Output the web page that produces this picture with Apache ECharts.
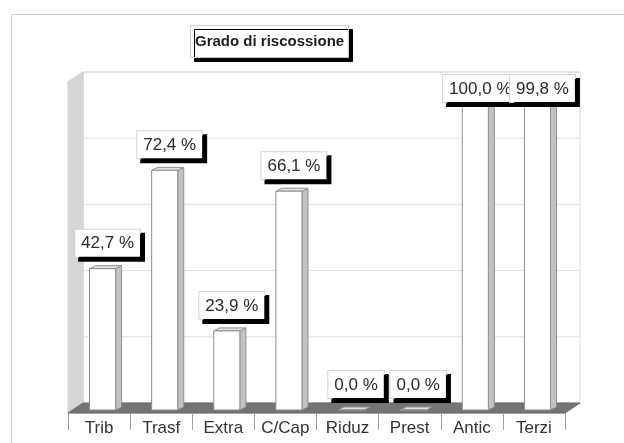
<!DOCTYPE html>
<html>
<head>
<meta charset="utf-8">
<script src="https://cdn.jsdelivr.net/npm/echarts@6/dist/echarts.min.js"></script>
<style>
  html, body { margin: 0; padding: 0; background: #fff; }
  #chart { width: 624px; height: 443px; }
</style>
</head>
<body>
<div id="chart"></div>
<script>
// Collection rate by revenue title
const categories = ['Trib', 'Trasf', 'Extra', 'C/Cap', 'Riduz', 'Prest', 'Antic', 'Terzi'];
const values = [42.7, 72.4, 23.9, 66.1, 0.0, 0.0, 100.0, 99.8];
const gridValues = [0, 20, 40, 60, 80, 100];
const titleText = 'Grado di riscossione';

const FONT = '"Liberation Sans", Arial, sans-serif';
// pseudo-3D offsets (pixels)
const WALL_DX = 15, WALL_DY = -10;     // depth of the back wall
const BAR_DX = 3.5, BAR_DY = -3;       // bar front plane relative to the axis plane
const BAR_DEPTH_X = 6, BAR_DEPTH_Y = -3;
const LABEL_TOP_LIMIT = 75;

function fmt(v) {
  return v.toFixed(1).replace('.', ',') + ' %';
}

const chart = echarts.init(document.getElementById('chart'), null, { renderer: 'canvas' });

// Walls, floor and the gridlines on the back wall
function renderWalls(params, api) {
  const cs = params.coordSys;
  const v = api.value(1);
  const y = api.coord([0, v])[1];
  const x0 = cs.x, x1 = cs.x + cs.width;
  const yTop = cs.y, yBot = cs.y + cs.height;
  const children = [];
  if (params.dataIndex === 0) {
    // back wall
    children.push({
      type: 'rect',
      shape: { x: x0 + WALL_DX, y: yTop + WALL_DY, width: cs.width, height: cs.height },
      style: { fill: '#ffffff', stroke: '#d8d8d8', lineWidth: 1 }
    });
    // left side wall
    children.push({
      type: 'polygon',
      shape: { points: [[x0, yBot], [x0 + WALL_DX, yBot + WALL_DY], [x0 + WALL_DX, yTop + WALL_DY], [x0, yTop]] },
      style: { fill: '#d6d6d6', stroke: '#cfcfcf', lineWidth: 1 }
    });
  }
  if (v > 0) {
    children.push({
      type: 'line',
      shape: { x1: x0 + WALL_DX, y1: y + WALL_DY, x2: x1 + WALL_DX, y2: y + WALL_DY },
      style: { stroke: '#dedede', lineWidth: 1 }
    });
  } else {
    // floor
    children.push({
      type: 'polygon',
      shape: { points: [[x0, yBot], [x1, yBot], [x1 + WALL_DX, yBot + WALL_DY], [x0 + WALL_DX, yBot + WALL_DY]] },
      style: { fill: '#747474', stroke: '#6a6a6a', lineWidth: 1 }
    });
  }
  return { type: 'group', children: children };
}

// 3D-looking columns
function renderBars(params, api) {
  const i = api.value(0), v = api.value(1);
  const top = api.coord([i, v]);
  const base = api.coord([i, 0]);
  const band = api.size([1, 0])[0];
  const w = band * 0.42;
  const cx = top[0] + BAR_DX;
  const xl = cx - w / 2, xr = cx + w / 2;
  const yt = top[1] + BAR_DY, yb = base[1] + BAR_DY;
  const stroke = '#8f8f8f';
  return {
    type: 'group',
    children: [
      {
        type: 'polygon',
        shape: { points: [[xr, yt], [xr + BAR_DEPTH_X, yt + BAR_DEPTH_Y], [xr + BAR_DEPTH_X, yb + BAR_DEPTH_Y], [xr, yb]] },
        style: { fill: '#c2c2c2', stroke: stroke, lineWidth: 1 }
      },
      {
        type: 'polygon',
        shape: { points: [[xl, yt], [xl + BAR_DEPTH_X, yt + BAR_DEPTH_Y], [xr + BAR_DEPTH_X, yt + BAR_DEPTH_Y], [xr, yt]] },
        style: { fill: '#e2e2e2', stroke: stroke, lineWidth: 1 }
      },
      {
        type: 'rect',
        shape: { x: xl, y: yt, width: w, height: yb - yt },
        style: { fill: '#ffffff', stroke: stroke, lineWidth: 1 }
      }
    ]
  };
}

// Value boxes with a hard black drop shadow
const BOX_H = 27;
function renderLabels(params, api) {
  const i = api.value(0), v = api.value(1);
  const top = api.coord([i, v]);
  const cx = top[0] + BAR_DX + 5;
  const yt = top[1] + BAR_DY;
  let y = yt - 12 - BOX_H;
  if (y < LABEL_TOP_LIMIT) y = LABEL_TOP_LIMIT;
  return {
    type: 'text',
    x: cx,
    y: y,
    style: {
      text: fmt(v),
      font: '17px ' + FONT,
      fill: '#2a2a2a',
      align: 'center',
      verticalAlign: 'top',
      lineHeight: 20,
      padding: [4, 6, 3, 6],
      backgroundColor: '#ffffff',
      borderColor: '#d4d4d4',
      borderWidth: 1,
      shadowColor: '#000000',
      shadowBlur: 0,
      shadowOffsetX: 4,
      shadowOffsetY: 4
    }
  };
}

const option = {
  animation: false,
  backgroundColor: '#ffffff',
  title: {
    text: titleText,
    left: 190,
    top: 25,
    padding: [9, 5, 9, 5],
    backgroundColor: '#ffffff',
    borderColor: '#cccccc',
    borderWidth: 1,
    shadowColor: '#000000',
    shadowBlur: 0,
    shadowOffsetX: 4,
    shadowOffsetY: 4,
    textStyle: { fontFamily: FONT, fontSize: 15, fontWeight: 'bold', color: '#1e1e1e' }
  },
  graphic: [
    {
      type: 'rect',
      shape: { x: 11.5, y: 14.5, width: 700, height: 600 },
      style: { fill: 'none', stroke: '#cccccc', lineWidth: 1 },
      silent: true,
      z: -1
    }
  ],
  grid: { left: 68, right: 59, top: 82, bottom: 30, containLabel: false },
  xAxis: {
    type: 'category',
    data: categories,
    boundaryGap: true,
    axisLine: { show: true, lineStyle: { color: '#a8a8a8', width: 1 } },
    axisTick: { show: true, interval: 0, length: 17, lineStyle: { color: '#a0a0a0' } },
    axisLabel: { interval: 0, margin: 7, fontFamily: FONT, fontSize: 17, color: '#333333' },
    splitLine: { show: false },
    z: 5
  },
  yAxis: {
    type: 'value',
    min: 0,
    max: 100,
    interval: 20,
    show: false,
    splitLine: { show: false }
  },
  series: [
    {
      type: 'custom',
      name: 'walls',
      z: 1,
      silent: true,
      renderItem: renderWalls,
      data: gridValues.map(function (v) { return [0, v]; })
    },
    {
      type: 'custom',
      name: 'bars',
      z: 2,
      renderItem: renderBars,
      data: values.map(function (v, i) { return [i, v]; })
    },
    {
      type: 'custom',
      name: 'labels',
      z: 3,
      silent: true,
      renderItem: renderLabels,
      data: values.map(function (v, i) { return [i, v]; })
    }
  ]
};

chart.setOption(option);
</script>
</body>
</html>
